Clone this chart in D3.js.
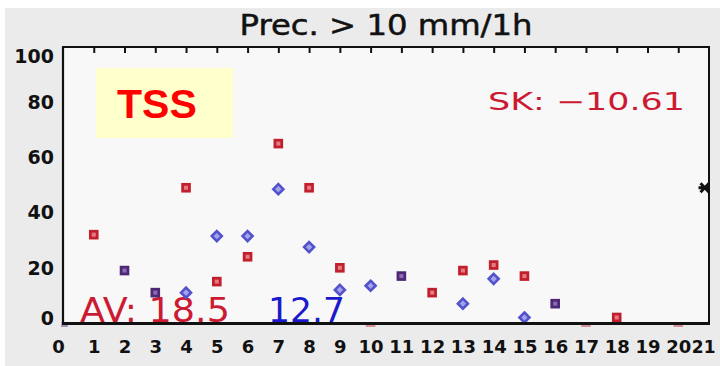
<!DOCTYPE html>
<html>
<head>
<meta charset="utf-8">
<script src="https://cdn.jsdelivr.net/npm/d3@7"></script>
<style>
  html, body { margin: 0; padding: 0; background: #ffffff; }
  svg { display: block; }
</style>
</head>
<body>
<svg id="chart" width="720" height="366"></svg>
<script>
// Hour of day (x) and TSS values per hour; null = no value that hour
const hours = [0, 1, 2, 3, 4, 5, 6, 7, 8, 9, 10, 11, 12, 13, 14, 15, 16, 17, 18, 19, 20, 21];
const xTickLabels = ["0", "1", "2", "3", "4", "5", "6", "7", "8", "9", "10", "11",
                     "12", "13", "14", "15", "16", "17", "18", "19", "20", "21"];
const yTickValues = [0, 20, 40, 60, 80, 100];

const tssRed  = [0, 32, 19, 11, 49, 15, 24, 65, 49, 20, 0, 17, 11, 19, 21, 17, 7, 0, 2, null, 0, null];
const tssBlue = [0, null, 19, 11, 11, 31.5, 31.5, 48.5, 27.5, 12, 13.5, 17, null, 7, 16, 2, 7, null, null, null, null, null];
const tssBlack = [null, null, null, null, null, null, null, null, null, null, null, null,
                  null, null, null, null, null, null, null, null, null, 49];

const titleText = "Prec. > 10 mm/1h";
const badgeText = "TSS";
const skillScore = "\u221210.61";
const avRed = 18.5;
const avBlue = 12.7;

const svg = d3.select("#chart");
const W = 720, H = 366;
const frame = { left: 63, right: 709, top: 47, bottom: 323 };

const x = d3.scaleLinear().domain([0, 21]).range([frame.left, frame.right]);
const y = d3.scaleLinear().domain([0, 100]).range([frame.bottom, frame.top]);

// page and panel backgrounds
svg.append("rect").attr("width", W).attr("height", H).attr("fill", "#ffffff");
svg.append("rect").attr("x", 5).attr("y", 8).attr("width", W - 5).attr("height", H - 8).attr("fill", "#ebebeb");
svg.append("rect")
  .attr("x", frame.left).attr("y", frame.top)
  .attr("width", frame.right - frame.left).attr("height", frame.bottom - frame.top)
  .attr("fill", "#f8f8f8");

const defs = svg.append("defs");
defs.append("clipPath").attr("id", "plotClip").append("rect")
  .attr("x", frame.left).attr("y", frame.top)
  .attr("width", frame.right - frame.left).attr("height", frame.bottom - frame.top);
defs.append("clipPath").attr("id", "zeroClip").append("rect")
  .attr("x", frame.left - 2).attr("y", frame.bottom - 1)
  .attr("width", frame.right - frame.left + 4).attr("height", 5);

// title
svg.append("text")
  .attr("x", (frame.left + frame.right) / 2).attr("y", 35)
  .attr("text-anchor", "middle")
  .attr("font-family", "DejaVu Sans, sans-serif").attr("font-size", 29)
  .attr("textLength", 293).attr("lengthAdjust", "spacingAndGlyphs")
  .attr("fill", "#111").attr("stroke", "#111").attr("stroke-width", 0.5)
  .text(titleText);

// badge
svg.append("rect").attr("x", 96).attr("y", 68).attr("width", 137).attr("height", 70).attr("fill", "#ffffcc");
svg.append("text")
  .attr("x", 117).attr("y", 118)
  .attr("font-family", "Liberation Sans, Arial, sans-serif").attr("font-weight", "bold")
  .attr("font-size", 41).attr("fill", "#ff0000")
  .text(badgeText);

// skill score
svg.append("text")
  .attr("x", 488).attr("y", 110)
  .attr("font-family", "DejaVu Sans, sans-serif").attr("font-size", 24)
  .attr("textLength", 197).attr("lengthAdjust", "spacingAndGlyphs")
  .attr("fill", "#cc1a33")
  .text("SK: " + skillScore);

// averages
svg.append("text")
  .attr("x", 80).attr("y", 322)
  .attr("font-family", "DejaVu Sans, sans-serif").attr("font-size", 33)
  .attr("textLength", 150).attr("lengthAdjust", "spacingAndGlyphs")
  .attr("fill", "#cc1a33")
  .text("AV: " + avRed.toFixed(1));
svg.append("text")
  .attr("x", 268).attr("y", 322)
  .attr("font-family", "DejaVu Sans, sans-serif").attr("font-size", 33)
  .attr("textLength", 77).attr("lengthAdjust", "spacingAndGlyphs")
  .attr("fill", "#1a1acc")
  .text(avBlue.toFixed(1));

// marker records
const pts = [];
hours.forEach((h, i) => {
  const r = tssRed[i], b = tssBlue[i], k = tssBlack[i];
  if (r != null && b != null && r === b) {
    pts.push({ hour: h, value: r, kind: "both" });
  } else {
    if (r != null) pts.push({ hour: h, value: r, kind: "red" });
    if (b != null) pts.push({ hour: h, value: b, kind: "blue" });
  }
  if (k != null) pts.push({ hour: h, value: k, kind: "black" });
});

const styles = {
  red:   { stroke: "#c21f2c", fill: "#e47c84" },
  blue:  { stroke: "#5252cc", fill: "#a3a3ec" },
  both:  { stroke: "#4d2877", fill: "#8d6cb2" },
  black: { stroke: "#111111", fill: "#555555" }
};

function drawMarker(g, d) {
  const s = styles[d.kind];
  const cx = x(d.hour), cy = y(d.value);
  if (d.kind === "blue") {
    const r = 5;
    g.append("path")
      .attr("d", `M${cx},${cy - r}L${cx + r},${cy}L${cx},${cy + r}L${cx - r},${cy}Z`)
      .attr("fill", s.fill).attr("stroke", s.stroke).attr("stroke-width", 2.6);
  } else if (d.kind === "black") {
    const r = 4.5;
    g.append("path")
      .attr("d", `M${cx - r - 4},${cy - r}L${cx},${cy + r}M${cx},${cy - r}L${cx - r - 4},${cy + r}M${cx - r - 6},${cy}L${cx + 1},${cy}`)
      .attr("fill", "none").attr("stroke", s.stroke).attr("stroke-width", 2.8);
  } else {
    g.append("rect")
      .attr("x", cx - 3.4).attr("y", cy - 3.4).attr("width", 6.8).attr("height", 6.8)
      .attr("fill", s.fill).attr("stroke", s.stroke).attr("stroke-width", 2.8);
  }
}

const markerLayer = svg.append("g").attr("clip-path", "url(#plotClip)");
const zeroLayer = svg.append("g").attr("clip-path", "url(#zeroClip)").attr("opacity", 0.45);
pts.filter(d => d.kind !== "black").forEach(d => {
  drawMarker(d.value === 0 ? zeroLayer : markerLayer, d);
});

// frame
const frameG = svg.append("g").attr("stroke", "#111").attr("fill", "none");
frameG.append("line").attr("x1", frame.left - 1).attr("x2", frame.right + 1)
  .attr("y1", frame.top).attr("y2", frame.top).attr("stroke-width", 2);
frameG.append("line").attr("x1", frame.left).attr("x2", frame.left)
  .attr("y1", frame.top).attr("y2", frame.bottom).attr("stroke-width", 2.2);
frameG.append("line").attr("x1", frame.right).attr("x2", frame.right)
  .attr("y1", frame.top).attr("y2", frame.bottom).attr("stroke-width", 2);
frameG.append("line").attr("x1", frame.left - 1).attr("x2", frame.right + 1)
  .attr("y1", frame.bottom + 0.5).attr("y2", frame.bottom + 0.5).attr("stroke-width", 3);

// marker sitting on the right edge
pts.filter(d => d.kind === "black").forEach(d => drawMarker(svg.append("g"), d));

// top ticks
const topAxis = svg.append("g")
  .attr("transform", `translate(0,${frame.top})`)
  .call(d3.axisTop(x).tickValues(hours.slice(1, 21)).tickSize(-6).tickFormat(""));
topAxis.select(".domain").remove();
topAxis.selectAll(".tick line").attr("stroke", "#111").attr("stroke-width", 2);

// bottom labels
const bottomAxis = svg.append("g")
  .attr("transform", `translate(0,${frame.bottom})`)
  .call(d3.axisBottom(x).tickValues(hours).tickSize(0).tickPadding(24)
    .tickFormat((h, i) => xTickLabels[i]));
bottomAxis.select(".domain").remove();
bottomAxis.selectAll(".tick text")
  .attr("font-family", "DejaVu Sans, sans-serif").attr("font-weight", "bold")
  .attr("font-size", 18).attr("fill", "#111")
  .attr("dy", "0.35em");
bottomAxis.selectAll(".tick").filter(h => h === 0).select("text").attr("dx", -5);
// last label kept inside the page edge
bottomAxis.selectAll(".tick").filter(h => h === 21).select("text")
  .attr("text-anchor", "end").attr("dx", 6).attr("font-size", 17);

// left labels, held inside the frame height at both ends
svg.append("g").selectAll("text")
  .data(yTickValues)
  .join("text")
  .attr("x", 54)
  .attr("y", v => Math.min(Math.max(y(v), frame.top + 9), frame.bottom - 5))
  .attr("dy", "0.36em")
  .attr("text-anchor", "end")
  .attr("font-family", "DejaVu Sans, sans-serif").attr("font-weight", "bold")
  .attr("font-size", 19).attr("fill", "#111")
  .text(v => String(v));
</script>
</body>
</html>
